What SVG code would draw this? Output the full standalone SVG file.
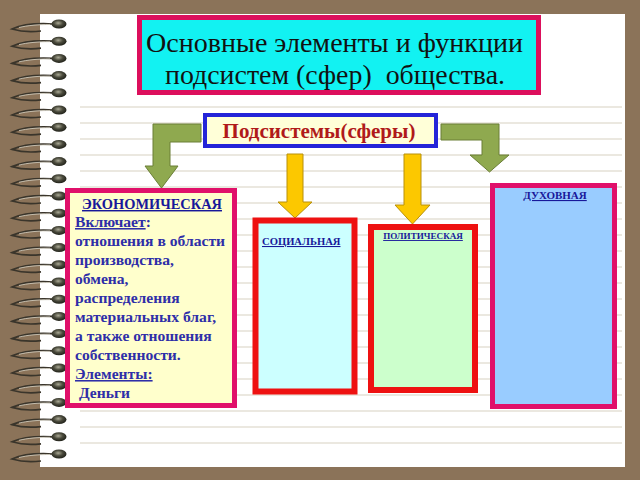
<svg xmlns="http://www.w3.org/2000/svg" xmlns:xlink="http://www.w3.org/1999/xlink" width="640" height="480" viewBox="0 0 640 480">
<style>
.ruled{stroke:#e4e1d6;stroke-width:1.6}
.serif{font-family:"Liberation Serif","Times New Roman",serif}
.eco{font-family:"Liberation Serif","Times New Roman",serif;font-weight:bold;font-size:15.6px;fill:#2e2ea8}
.lbl{font-family:"Liberation Serif","Times New Roman",serif;font-weight:bold;fill:#18189a;text-decoration:underline}
.green{fill:#8fa94f;stroke:#6a7e36;stroke-width:1}
.yellow{fill:#fcc800;stroke:#b8900a;stroke-width:1}
</style>
<defs>
<radialGradient id="bead" cx="0.45" cy="0.4" r="0.6">
<stop offset="0" stop-color="#a9a894"/>
<stop offset="0.5" stop-color="#4a4a3c"/>
<stop offset="1" stop-color="#1f2018"/>
</radialGradient>
<g id="ring">
<path d="M53,0 C36,-1 21,1 12,5 C22,8 32,8 41,7" fill="none" stroke="#3a352b" stroke-width="1.7"/>
<path d="M50,0.5 C38,0.5 27,1.5 19,3.5" fill="none" stroke="#d6d2c4" stroke-width="0.8"/>
<ellipse cx="59" cy="0" rx="7.5" ry="4.5" fill="url(#bead)"/>
</g>
</defs>
<rect width="640" height="480" fill="#8b7359"/>
<rect x="40" y="14" width="585" height="453" fill="#ffffff"/>
<g id="lines">
<line class="ruled" x1="80" y1="107" x2="622" y2="107"/>
<line class="ruled" x1="80" y1="123" x2="622" y2="123"/>
<line class="ruled" x1="80" y1="139" x2="622" y2="139"/>
<line class="ruled" x1="80" y1="155" x2="622" y2="155"/>
<line class="ruled" x1="80" y1="171" x2="622" y2="171"/>
<line class="ruled" x1="80" y1="187" x2="622" y2="187"/>
<line class="ruled" x1="80" y1="203" x2="622" y2="203"/>
<line class="ruled" x1="80" y1="219" x2="622" y2="219"/>
<line class="ruled" x1="80" y1="235" x2="622" y2="235"/>
<line class="ruled" x1="80" y1="251" x2="622" y2="251"/>
<line class="ruled" x1="80" y1="267" x2="622" y2="267"/>
<line class="ruled" x1="80" y1="283" x2="622" y2="283"/>
<line class="ruled" x1="80" y1="299" x2="622" y2="299"/>
<line class="ruled" x1="80" y1="315" x2="622" y2="315"/>
<line class="ruled" x1="80" y1="331" x2="622" y2="331"/>
<line class="ruled" x1="80" y1="347" x2="622" y2="347"/>
<line class="ruled" x1="80" y1="363" x2="622" y2="363"/>
<line class="ruled" x1="80" y1="379" x2="622" y2="379"/>
<line class="ruled" x1="80" y1="395" x2="622" y2="395"/>
<line class="ruled" x1="80" y1="411" x2="622" y2="411"/>
<line class="ruled" x1="80" y1="427" x2="622" y2="427"/>
<line class="ruled" x1="80" y1="443" x2="622" y2="443"/>
</g>
<g id="spiral">
<use xlink:href="#ring" y="24"/><use xlink:href="#ring" y="41.2"/><use xlink:href="#ring" y="58.4"/><use xlink:href="#ring" y="75.6"/>
<use xlink:href="#ring" y="92.8"/><use xlink:href="#ring" y="110"/><use xlink:href="#ring" y="127.2"/><use xlink:href="#ring" y="144.4"/>
<use xlink:href="#ring" y="161.6"/><use xlink:href="#ring" y="178.8"/><use xlink:href="#ring" y="196"/><use xlink:href="#ring" y="213.2"/>
<use xlink:href="#ring" y="230.4"/><use xlink:href="#ring" y="247.6"/><use xlink:href="#ring" y="264.8"/><use xlink:href="#ring" y="282"/>
<use xlink:href="#ring" y="299.2"/><use xlink:href="#ring" y="316.4"/><use xlink:href="#ring" y="333.6"/><use xlink:href="#ring" y="350.8"/>
<use xlink:href="#ring" y="368"/><use xlink:href="#ring" y="385.2"/><use xlink:href="#ring" y="402.4"/><use xlink:href="#ring" y="419.6"/>
<use xlink:href="#ring" y="436.8"/><use xlink:href="#ring" y="454"/>
</g>
<g id="title">
<rect x="139.5" y="17.5" width="399" height="75" fill="#12f2f2" stroke="#dc0f5c" stroke-width="5"/>
<text class="serif" x="146" y="52" font-size="28" textLength="377" lengthAdjust="spacingAndGlyphs" fill="#111">Основные элементы и функции</text>
<text class="serif" x="165" y="84" font-size="28" textLength="340" lengthAdjust="spacingAndGlyphs" fill="#111" xml:space="preserve">подсистем (сфер)  общества.</text>
</g>
<g id="connectors">
<path class="green" d="M201,124 L153,124 L153,166 L145,166 L161.5,188 L178,166 L170,166 L170,142 L201,142 Z"/>
<path class="green" d="M441,124 L499,124 L499,155 L509,155 L489.5,172 L470,155 L482,155 L482,140 L441,140 Z"/>
<path class="yellow" d="M287,154 L303,154 L303,202 L312,202 L295,218 L278,202 L287,202 Z"/>
<path class="yellow" d="M404,154 L421,154 L421,205 L430,205 L412.5,224 L395,205 L404,205 Z"/>
</g>
<g id="subsystems">
<rect x="205" y="115" width="231" height="31" fill="#ffffd8" stroke="#2424d8" stroke-width="4"/>
<text class="serif" x="319" y="138" font-size="21" font-weight="bold" text-anchor="middle" fill="#b01a1a">Подсистемы(сферы)</text>
</g>
<g id="economic">
<rect x="67.5" y="190.5" width="167" height="215" fill="#ffffcc" stroke="#e0106a" stroke-width="5"/>
<text class="lbl" x="152" y="209" font-size="14.4" text-anchor="middle" fill="#10106e">ЭКОНОМИЧЕСКАЯ</text>
<text class="eco" x="75" y="227"><tspan text-decoration="underline">Включает</tspan>:</text>
<text class="eco" x="75" y="246">отношения в области</text>
<text class="eco" x="75" y="265">производства,</text>
<text class="eco" x="75" y="284">обмена,</text>
<text class="eco" x="75" y="303">распределения</text>
<text class="eco" x="75" y="322">материальных благ,</text>
<text class="eco" x="75" y="341">а также отношения</text>
<text class="eco" x="75" y="360">собственности.</text>
<text class="eco" x="75" y="379" text-decoration="underline">Элементы:</text>
<text class="eco" x="75" y="398" xml:space="preserve"> Деньги</text>
</g>
<g id="social">
<rect x="255.5" y="220.5" width="99" height="171" fill="#ccffff" stroke="#ee1111" stroke-width="6"/>
<text class="lbl" x="262" y="245" font-size="10.6">СОЦИАЛЬНАЯ</text>
</g>
<g id="political">
<rect x="371" y="227" width="104" height="163" fill="#ccffcc" stroke="#ee1111" stroke-width="6"/>
<text class="lbl" x="423" y="239" font-size="9.1" text-anchor="middle">ПОЛИТИЧЕСКАЯ</text>
</g>
<g id="spiritual">
<rect x="492.5" y="185.5" width="122" height="221" fill="#99ccff" stroke="#e0106a" stroke-width="5"/>
<text class="lbl" x="555" y="199" font-size="11" text-anchor="middle">ДУХОВНАЯ</text>
</g>
</svg>
